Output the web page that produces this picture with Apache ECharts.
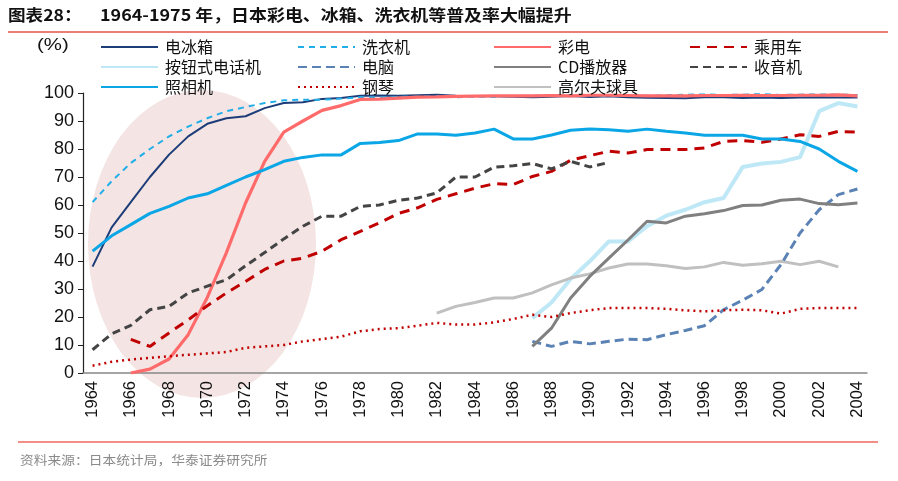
<!DOCTYPE html>
<html>
<head>
<meta charset="utf-8">
<script src="https://cdn.jsdelivr.net/npm/echarts@6/dist/echarts.min.js"></script>
<style>
html,body{margin:0;padding:0;background:#fff;}
#c{width:898px;height:481px;}
</style>
</head>
<body>
<div id="c"></div>
<script>
const years = [];
for (let y = 1964; y <= 2004; y++) years.push(String(y));
const _ = null;

const fridge = [38, 52, 61, 70, 78, 84.5, 89, 91, 91.7, 94.6, 96.4, 96.7, 97.9, 98.2,
  99.0, 99.1, 99.0, 99.2, 99.4, 99.0, 98.9, 98.8, 98.7, 98.5, 98.7, 98.9, 98.6,
  98.8, 98.5, 98.3, 98.2, 98.1, 98.5, 98.5, 98.2, 98.4, 98.2, 98.4, 98.5, 98.4, 98.4];
const washer = [61, 68.5, 75, 80, 84.5, 88, 91, 93.5, 95, 96.4, 97.4, 97.6, 97.6, 98,
  98.5, 98.4, 98.6, 98.7, 98.8, 98.5, 98.7, 98.6, 98.9, 99, 99.3, 99.1, 99.2,
  98.9, 99.1, 99.0, 99.2, 99.4, 99.5, 99.3, 99.4, 99.6, 99.3, 99.4, 99.5, 99.4, 99.3];
const colorTV = [_, _, 0, 1.4, 5, 13.7, 27, 43, 60.7, 75.6, 86, 90, 93.8, 95.5,
  97.7, 97.8, 98.2, 98.5, 98.6, 98.8, 98.9, 99, 99, 99, 99.1, 99.0, 99.2,
  99.2, 99.1, 99.0, 99.0, 99.0, 99.1, 99.1, 99.2, 99.1, 99.1, 99.2, 99.2, 99.3, 99.0];
const car = [_, _, 12, 9.5, 14.3, 19, 24, 28.6, 32.7, 37, 40, 41, 43.5, 47.6,
  50.6, 53.6, 57, 59, 62, 64, 66, 67.6, 67.3, 70.2, 72, 76, 77.6,
  79.2, 78.6, 79.8, 79.8, 79.8, 80.4, 82.7, 83, 82.4, 83.6, 85.1, 84.5, 86.3, 86];
const phone = [_, _, _, _, _, _, _, _, _, _, _, _, _, _, _, _, _, _, _, _, _, _, _,
  19.6, 25.2, 33.6, 39.9,
  47, 47, 52.4, 56.2, 58.3, 61, 62.5, 73.6, 74.8, 75.4, 77.1, 93.5, 96.4, 95.2];
const pc = [_, _, _, _, _, _, _, _, _, _, _, _, _, _, _, _, _, _, _, _, _, _, _,
  11.3, 9.5, 11.3, 10.4,
  11.3, 12.1, 11.9, 13.7, 15.2, 16.9, 22.6, 26, 29.8, 38.7, 50, 58.3, 63.7, 65.7];
const cd = [_, _, _, _, _, _, _, _, _, _, _, _, _, _, _, _, _, _, _, _, _, _, _,
  9.5, 16, 26.8, 34.5,
  41, 47.5, 54.2, 53.6, 56, 56.9, 58, 59.8, 60, 61.7, 62.1, 60.5, 60.1, 60.7];
const radio = [8.3, 14, 17, 22.6, 23.8, 28.6, 31, 33.3, 38.3, 43, 47.9, 52.4, 56, 56,
  59.5, 60, 61.7, 62.5, 64.3, 70, 70, 73.5, 74, 74.8, 72.9, 75.6, 73.6, 75.2,
  _, _, _, _, _, _, _, _, _, _, _, _, _];
const camera = [43.5, 49, 53, 57, 59.5, 62.5, 64, 67, 70, 72.6, 75.6, 77, 77.9, 77.9,
  82, 82.3, 83, 85.4, 85.4, 84.9, 85.7, 87.1, 83.6, 83.6, 85, 86.7, 87.1,
  86.9, 86.3, 87.1, 86.3, 85.7, 84.9, 84.9, 84.9, 83.6, 83.6, 82.7, 80, 75.6, 72];
const piano = [2.6, 4, 4.8, 5.4, 6, 6.5, 7, 7.5, 9, 9.5, 10, 11.3, 12.1, 13,
  14.9, 15.7, 16, 16.9, 17.9, 17.3, 17.3, 18.1, 19.3, 20.8, 20, 21.4, 22.4,
  23.2, 23.2, 23.2, 22.9, 22.4, 22, 22.4, 22.6, 22.4, 21.2, 22.9, 23.2, 23.2, 23.2];
const golf = [_, _, _, _, _, _, _, _, _, _, _, _, _, _, _, _, _, _,
  21.4, 23.8, 25.2, 26.8, 26.8, 28.6, 31.5, 33.9, 35.4,
  37.5, 38.9, 38.9, 38.3, 37.3, 37.9, 39.5, 38.5, 39, 39.9, 38.7, 39.9, 37.9, _];

const yTicks = [0, 10, 20, 30, 40, 50, 60, 70, 80, 90, 100];

const chart = echarts.init(document.getElementById('c'));
const CJK = '"Noto Sans CJK SC", sans-serif';
const ARIAL = '"Liberation Sans", Arial, sans-serif';

function line(name, data, color, width, type, z) {
  return {
    name: name, type: 'line', data: data, symbol: 'none', showSymbol: false, connectNulls: false,
    z: z || 3,
    lineStyle: { color: color, width: width, type: type || 'solid' },
    itemStyle: { color: color }
  };
}

const legendCommon = {
  orient: 'vertical', itemWidth: 57, itemHeight: 12, itemGap: 4,
  itemStyle: { color: 'transparent', borderColor: 'transparent', borderWidth: 0 },
  textStyle: { fontFamily: CJK, fontSize: 16, color: '#111', padding: [0, 0, 0, 2] }
};

chart.setOption({
  animation: false,
  backgroundColor: '#fff',
  grid: { left: 83, right: 31, top: 93, bottom: 108, containLabel: false },
  graphic: [
    { type: 'text', x: 8, y: 7, z: 10, scaleX: 1.1,
      style: { text: '图表28：', fontFamily: CJK, fontSize: 16, fontWeight: 'bold', fill: '#111' } },
    { type: 'text', x: 100, y: 7, z: 10, scaleX: 1.12,
      style: { text: '1964-1975 年，日本彩电、冰箱、洗衣机等普及率大幅提升',
        fontFamily: CJK, fontSize: 16, fontWeight: 'bold', fill: '#111' } },
    { type: 'line', z: 10, shape: { x1: 8, y1: 32, x2: 888, y2: 32 },
      style: { stroke: '#e8504a', lineWidth: 1.5 } },
    { type: 'line', z: 10, shape: { x1: 18, y1: 442, x2: 878, y2: 442 },
      style: { stroke: '#f06a5e', lineWidth: 1.5 } },
    { type: 'text', x: 20, y: 454, z: 10, scaleX: 1.1,
      style: { text: '资料来源：日本统计局，华泰证券研究所', fontFamily: CJK, fontSize: 12.5, fill: '#8a8a8a' } },
    { type: 'text', x: 37, y: 37, z: 10, scaleX: 1.2,
      style: { text: '(%)', fontFamily: ARIAL, fontSize: 17, fill: '#111' } },
    { type: 'circle', z: 0, shape: { cx: 0, cy: 0, r: 154 }, x: 202, y: 244,
      scaleX: 114 / 154, scaleY: 1,
      style: { fill: '#f4e4e4' } }
  ],
  legend: [
    Object.assign({}, legendCommon, { left: 95, top: 34, data: ['电冰箱', '按钮式电话机', '照相机'] }),
    Object.assign({}, legendCommon, { left: 292, top: 34, data: ['洗衣机', '电脑', '钢琴'] }),
    Object.assign({}, legendCommon, { left: 488, top: 34, data: ['彩电', 'CD播放器', '高尔夫球具'] }),
    Object.assign({}, legendCommon, { left: 684, top: 34, data: ['乘用车', '收音机'] })
  ],
  xAxis: {
    type: 'category', data: years, boundaryGap: true,
    axisLine: { lineStyle: { color: '#888', width: 1.5 } },
    axisTick: { interval: 0, length: 5, lineStyle: { color: '#555' } },
    axisLabel: { interval: 1, rotate: 90, fontFamily: ARIAL, fontSize: 16.5, color: '#111', margin: 8 },
    splitLine: { show: false }
  },
  yAxis: {
    type: 'value', min: yTicks[0], max: yTicks[yTicks.length - 1], interval: 10,
    axisLine: { show: true, lineStyle: { color: '#222', width: 1.2 } },
    axisTick: { show: true, length: 5, lineStyle: { color: '#222' } },
    axisLabel: { fontFamily: ARIAL, fontSize: 18, color: '#111', margin: 9 },
    splitLine: { show: false }
  },
  series: [
    line('电冰箱', fridge, '#1d3d78', 2),
    line('洗衣机', washer, '#21aee8', 2, [6, 5]),
    line('彩电', colorTV, '#ff6b6b', 3.2),
    line('乘用车', car, '#c00000', 3, [10, 7]),
    line('按钮式电话机', phone, '#bfe8f7', 4, 'solid', 2),
    line('电脑', pc, '#5b82b5', 3, [9, 5]),
    line('CD播放器', cd, '#808080', 3),
    line('收音机', radio, '#444444', 3, [8, 5]),
    line('照相机', camera, '#0aa6e6', 3),
    line('钢琴', piano, '#c00000', 2.5, [2, 4]),
    line('高尔夫球具', golf, '#c0c0c0', 3, 'solid', 2)
  ]
});
</script>
</body>
</html>
